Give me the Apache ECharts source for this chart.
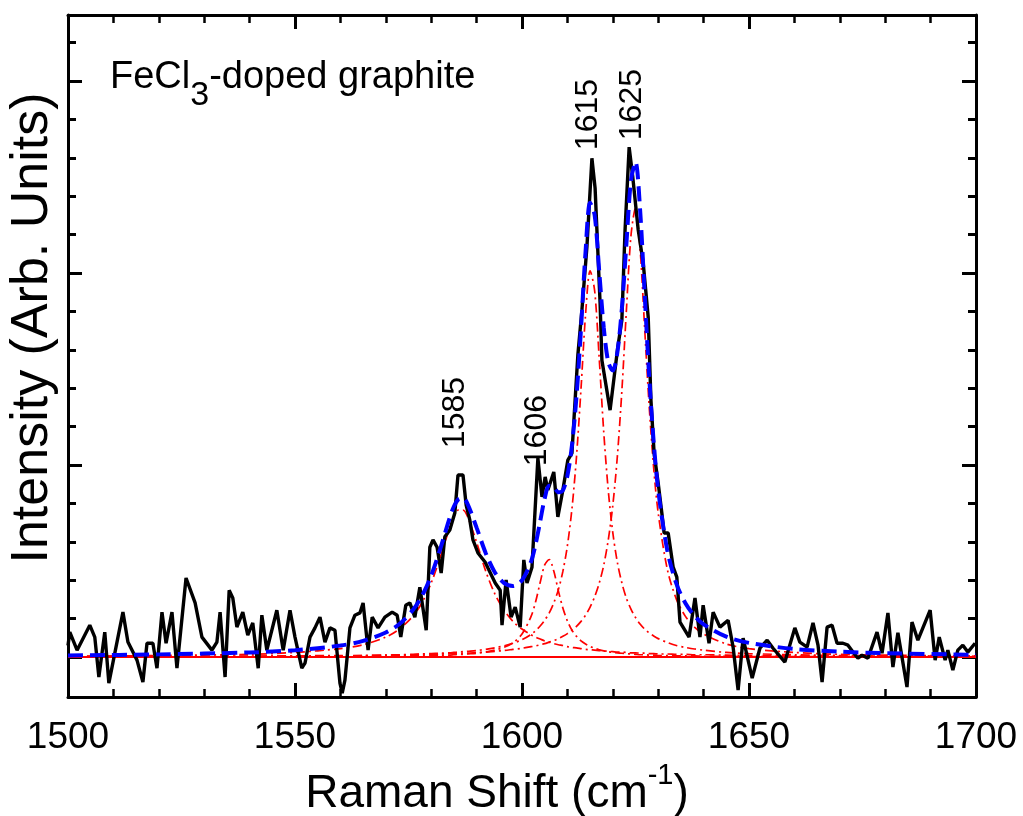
<!DOCTYPE html>
<html>
<head>
<meta charset="utf-8">
<script src="https://cdn.jsdelivr.net/npm/echarts@6/dist/echarts.min.js"></script>
<style>
html,body{margin:0;padding:0;background:#fff;}
#chart{width:1023px;height:816px;}
</style>
</head>
<body>
<div id="chart"></div>
<script>
// Measured spectrum (Raman shift in cm-1, intensity in arb. units)
var ramanShift = [1500.0,1500.4,1502.0,1504.8,1505.9,1506.8,1508.1,1509.0,1512.1,1513.2,1515.2,1516.5,1517.4,1518.7,1519.6,1520.7,1521.6,1522.9,1524.0,1526.0,1528.0,1529.5,1531.7,1532.8,1533.5,1534.6,1535.5,1536.3,1537.2,1538.5,1539.6,1540.7,1541.9,1542.7,1543.8,1546.0,1547.4,1548.9,1550.0,1551.5,1552.2,1553.3,1554.4,1555.5,1556.6,1557.7,1558.8,1559.9,1560.4,1561.0,1562.1,1563.2,1564.3,1565.0,1566.1,1567.0,1568.3,1569.8,1571.4,1572.5,1573.3,1574.4,1575.3,1576.4,1577.5,1578.9,1579.7,1580.4,1581.3,1582.2,1583.0,1584.1,1585.2,1585.9,1587.0,1587.7,1588.5,1589.2,1590.3,1591.9,1592.5,1594.1,1595.2,1595.6,1596.5,1597.6,1598.5,1599.6,1600.4,1601.1,1602.2,1603.5,1604.4,1605.1,1605.7,1607.0,1607.9,1609.0,1610.1,1611.0,1611.7,1612.3,1613.2,1614.3,1615.4,1616.1,1617.2,1617.6,1619.4,1621.1,1622.0,1622.7,1623.6,1624.4,1625.6,1626.7,1627.8,1628.4,1629.1,1630.0,1630.8,1631.3,1632.2,1633.3,1634.1,1634.8,1636.8,1638.1,1639.2,1639.9,1641.2,1642.1,1643.6,1645.4,1646.5,1647.6,1648.7,1650.7,1652.4,1654.0,1655.3,1657.9,1660.1,1661.2,1662.8,1664.1,1665.2,1666.1,1667.2,1668.3,1669.4,1670.7,1671.8,1672.9,1674.0,1674.9,1676.2,1678.2,1679.3,1680.6,1681.7,1682.8,1684.8,1685.9,1687.2,1689.9,1691.0,1691.9,1693.2,1693.8,1694.9,1696.0,1697.1,1698.2,1699.8];
var intensity = [0.30,0.65,0.18,0.83,0.52,-0.52,0.65,-0.68,1.17,0.39,-0.08,-0.65,0.36,0.36,-0.29,1.17,0.36,1.17,-0.29,2.06,1.41,0.52,0.18,0.39,1.17,-0.52,1.74,1.54,0.78,1.17,0.57,0.89,-0.29,1.09,0.18,1.22,0.18,1.22,0.52,-0.29,-0.16,0.52,0.76,1.04,0.39,0.76,0.70,-0.68,-0.94,-0.60,0.76,1.09,1.15,1.41,0.18,1.04,0.76,1.04,1.17,1.09,0.52,1.35,1.41,1.04,1.82,0.70,2.86,3.05,2.86,2.19,3.13,3.31,3.75,4.74,4.74,3.96,3.57,3.05,2.71,2.47,2.32,1.93,1.74,0.83,2.01,1.04,1.30,0.78,2.53,1.93,2.34,5.18,4.17,4.69,4.35,4.82,3.65,4.35,5.13,5.31,6.69,7.86,9.04,10.68,12.99,12.21,9.22,7.73,6.43,8.07,8.78,11.12,13.28,12.50,11.12,10.26,8.85,6.69,5.31,4.53,3.75,3.23,3.23,2.34,2.08,0.91,0.52,1.54,0.52,1.35,0.36,1.17,0.78,0.96,0.26,-0.86,0.49,-0.55,0.23,0.44,0.23,-0.13,0.76,0.39,0.26,0.89,0.31,-0.65,0.78,0.83,0.36,0.36,0.31,0.13,-0.03,0.05,-0.03,0.65,0.10,1.15,-0.26,0.63,-0.78,0.91,0.44,1.22,-0.08,0.52,-0.08,0.18,-0.34,0.18,0.31,0.13,0.36];

// Fitted curves
var fitShift = [1500,1520,1540,1550,1560,1565,1570,1573,1576,1578,1580,1582,1584,1585,1586,1587,1588,1590,1592,1594,1596,1598,1600,1602,1603,1604,1605,1606,1607,1608,1609,1610,1611,1612,1613,1614,1615,1616,1617,1618,1619,1620,1621,1622,1623,1624,1625,1626,1627,1628,1629,1630,1632,1634,1636,1638,1640,1645,1650,1660,1670,1680,1700];
var comp1585 = [0.02,0.04,0.07,0.12,0.22,0.32,0.52,0.73,1.07,1.42,1.93,2.60,3.35,3.66,3.83,3.83,3.66,2.99,2.24,1.65,1.23,0.93,0.73,0.58,0.52,0.47,0.42,0.39,0.35,0.32,0.30,0.27,0.25,0.24,0.22,0.20,0.19,0.18,0.17,0.16,0.15,0.14,0.13,0.13,0.12,0.11,0.11,0.10,0.10,0.09,0.09,0.08,0.08,0.07,0.07,0.06,0.06,0.05,0.04,0.03,0.02,0.02,0.01];
var comp1606 = [0.00,0.00,0.01,0.01,0.01,0.02,0.02,0.02,0.03,0.03,0.04,0.05,0.05,0.06,0.07,0.07,0.08,0.10,0.13,0.18,0.25,0.37,0.60,1.06,1.44,1.94,2.40,2.54,2.24,1.73,1.28,0.94,0.70,0.54,0.42,0.34,0.28,0.23,0.19,0.16,0.14,0.12,0.11,0.10,0.09,0.08,0.07,0.06,0.06,0.05,0.05,0.04,0.04,0.03,0.03,0.03,0.02,0.02,0.01,0.01,0.01,0.00,0.00];
var comp1615 = [0.01,0.01,0.02,0.03,0.04,0.04,0.05,0.06,0.07,0.08,0.09,0.10,0.11,0.12,0.13,0.14,0.15,0.17,0.20,0.24,0.29,0.36,0.45,0.59,0.69,0.81,0.96,1.15,1.41,1.75,2.23,2.90,3.86,5.21,6.99,8.92,10.06,9.54,7.79,5.87,4.34,3.24,2.47,1.93,1.53,1.25,1.03,0.86,0.73,0.63,0.55,0.48,0.38,0.30,0.25,0.21,0.18,0.12,0.09,0.06,0.04,0.03,0.02];
var comp1625 = [0.01,0.01,0.02,0.03,0.03,0.04,0.05,0.05,0.06,0.07,0.07,0.08,0.09,0.09,0.09,0.10,0.10,0.12,0.13,0.15,0.17,0.20,0.23,0.27,0.29,0.32,0.35,0.39,0.43,0.48,0.54,0.61,0.70,0.80,0.93,1.09,1.30,1.57,1.92,2.39,3.05,3.95,5.22,6.94,9.04,10.97,11.69,10.65,8.60,6.56,4.93,3.75,2.29,1.51,1.06,0.78,0.60,0.34,0.22,0.12,0.07,0.05,0.03];
var fitSum = [0.04,0.07,0.12,0.18,0.30,0.42,0.64,0.86,1.23,1.60,2.12,2.82,3.60,3.92,4.11,4.14,3.99,3.37,2.71,2.21,1.93,1.85,2.00,2.49,2.94,3.53,4.13,4.46,4.43,4.29,4.34,4.72,5.51,6.78,8.56,10.56,11.83,11.51,10.06,8.59,7.68,7.46,7.93,9.08,10.77,12.41,12.89,11.67,9.49,7.33,5.61,4.35,2.78,1.91,1.40,1.07,0.85,0.53,0.37,0.21,0.14,0.10,0.06];
var baselineShift = [1500,1700];
var baselineValue = [0,0];

// Peak annotations
var peakLabels = ['1585','1606','1615','1625'];
var peakLabelX = [1585.2,1603.3,1614.5,1624.2];
var peakLabelY = [5.44,4.97,13.2,13.46];

// Axis ticks
var xMin = 1500, xMax = 1700, xStep = 50;
var yMin = -1.04, yMax = 16.72;
var yMajorTicks = [0,5,10,15];
var yMinorTicks = [1,2,3,4,6,7,8,9,11,12,13,14,16];

function zip(a,b){var r=[];for(var i=0;i<a.length;i++)r.push([a[i],b[i]]);return r;}

var FONT = "'Liberation Sans',Arial,sans-serif";
var chart = echarts.init(document.getElementById('chart'), null, {renderer:'canvas'});

function xAxisDef(pos, labels){
  return {
    type:'value', position:pos, min:xMin, max:xMax, interval:xStep,
    axisLine:{show:true, onZero:false, lineStyle:{color:'#000', width:3}},
    axisTick:{show:true, inside:true, length:14, lineStyle:{color:'#000', width:3}},
    minorTick:{show:true, splitNumber:5, length:8, lineStyle:{color:'#000', width:2.5}},
    axisLabel:{show:labels, color:'#000', fontSize:37, fontFamily:FONT, margin:22,
      formatter:function(v){return String(v);}},
    splitLine:{show:false}, minorSplitLine:{show:false}
  };
}
function yAxisDef(pos, ticks, len, showLine){
  return {
    type:'value', position:pos, min:yMin, max:yMax, offset:0,
    axisLine:{show:showLine, onZero:false, lineStyle:{color:'#000', width:3}},
    axisTick:{show:true, inside:true, length:len, customValues:ticks, lineStyle:{color:'#000', width:3}},
    axisLabel:{show:false}, splitLine:{show:false}
  };
}

var xa = xAxisDef('bottom', true);
xa.name = '{a|Raman Shift (cm}{s|-1}{a|)}';
xa.nameLocation = 'middle';
xa.nameGap = 64;
xa.nameTextStyle = {color:'#000', fontFamily:FONT, padding:[0,50,0,0], rich:{
  a:{fontSize:46, fontFamily:FONT, color:'#000', lineHeight:56, verticalAlign:'bottom'},
  s:{fontSize:29, fontFamily:FONT, color:'#000', lineHeight:30, verticalAlign:'top'}
}};

var ya = yAxisDef('left', yMajorTicks, 14, true);
ya.name = 'Intensity (Arb. Units)';
ya.nameLocation = 'middle';
ya.nameGap = 9;
ya.nameTextStyle = {color:'#000', fontSize:52, fontFamily:FONT, padding:[0,0,0,56]};

var option = {
  animation:false,
  backgroundColor:'#fff',
  grid:{left:68, right:47, top:15, bottom:119, containLabel:false, outerBoundsMode:'none'},
  xAxis:[xa, xAxisDef('top', false)],
  yAxis:[ya, yAxisDef('left', yMinorTicks, 8, false), yAxisDef('right', yMajorTicks, 14, true), yAxisDef('right', yMinorTicks, 8, false)],
  graphic:[{
    type:'text', left:110, top:59,
    style:{
      text:'{a|FeCl}{b|3}{a|-doped graphite}',
      rich:{
        a:{fontSize:38, fontFamily:FONT, fill:'#000', lineHeight:38, verticalAlign:'top'},
        b:{fontSize:34, fontFamily:FONT, fill:'#000', lineHeight:54, verticalAlign:'bottom'}
      }
    }
  }],
  series:[
    {type:'line', name:'baseline', data:zip(baselineShift, baselineValue), showSymbol:false, silent:true,
     lineStyle:{color:'#ff0000', width:2}, z:2},
    {type:'line', name:'1585', data:zip(fitShift, comp1585), showSymbol:false, smooth:0.3,
     lineStyle:{color:'#ff0000', width:1.7, type:[9,4,2,4]}, z:3},
    {type:'line', name:'1606', data:zip(fitShift, comp1606), showSymbol:false, smooth:0.3,
     lineStyle:{color:'#ff0000', width:1.7, type:[9,4,2,4]}, z:3},
    {type:'line', name:'1615', data:zip(fitShift, comp1615), showSymbol:false, smooth:0.3,
     lineStyle:{color:'#ff0000', width:1.7, type:[9,4,2,4]}, z:3},
    {type:'line', name:'1625', data:zip(fitShift, comp1625), showSymbol:false, smooth:0.3,
     lineStyle:{color:'#ff0000', width:1.7, type:[9,4,2,4]}, z:3},
    {type:'line', name:'data', data:zip(ramanShift, intensity), showSymbol:false,
     lineStyle:{color:'#000', width:3.4}, z:4},
    {type:'line', name:'fit', data:zip(fitShift, fitSum), showSymbol:false, smooth:0.3,
     lineStyle:{color:'#0000ff', width:4, type:[15,7]}, z:5},
    {type:'scatter', name:'labels', data:zip(peakLabelX, peakLabelY), symbolSize:0, silent:true,
     itemStyle:{opacity:1},
     label:{show:true, position:'inside', rotate:90, align:'left', verticalAlign:'middle',
       color:'#000', opacity:1, fontSize:32, fontFamily:FONT,
       formatter:function(p){return peakLabels[p.dataIndex];}}, z:6}
  ]
};
chart.setOption(option);
</script>
</body>
</html>
